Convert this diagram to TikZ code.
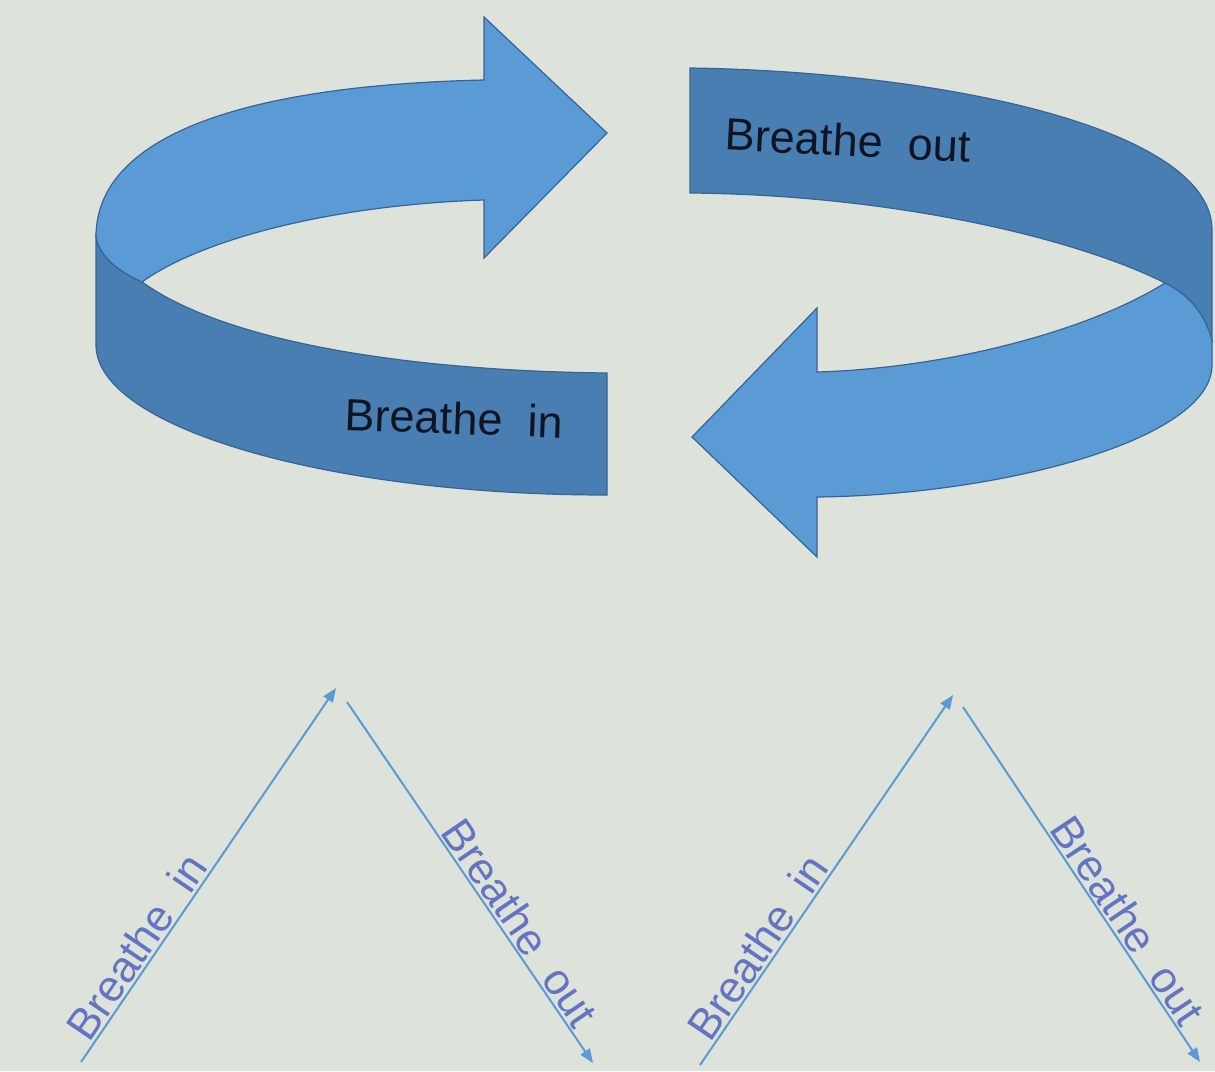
\documentclass[tikz,border=0pt]{standalone}
\usepackage{fontspec}
\setmainfont{Liberation Sans}
\usetikzlibrary{arrows.meta}
\definecolor{bgc}{RGB}{221,226,218}
\definecolor{lightblue}{RGB}{91,155,213}
\definecolor{darkblue}{RGB}{72,126,178}
\definecolor{edgeblue}{RGB}{55,100,150}
\definecolor{labelblue}{RGB}{100,115,195}
\definecolor{txt}{RGB}{15,20,35}
\begin{document}
\begin{tikzpicture}[x=0.5pt,y=-0.5pt,
  lightpart/.style={fill=lightblue, draw=edgeblue, line width=0.6pt},
  darkpart/.style={fill=darkblue, draw=edgeblue, line width=0.6pt},
  bandtext/.style={font=\fontsize{22.5}{27}\selectfont, text=txt, inner sep=0pt},
  flow/.style={draw=lightblue, line width=1pt, -{Triangle[length=7pt,width=5.5pt]}},
  flowlabel/.style={font=\fontsize{22}{26}\selectfont, text=labelblue, sloped, above, inner sep=1pt}]
\fill[bgc] (0,0) rectangle (1215,1071);
\useasboundingbox (0,0) rectangle (1215,1071);

% ---- left ribbon (Breathe in) ----
\path[darkpart] (96,237) -- (96,345) .. controls (96,428) and (330,495) .. (607,495)
  -- (607,373) .. controls (420,371) and (230,345) .. (142,282)
  .. controls (120,272) and (100,258) .. (96,237) -- cycle;
\path[lightpart] (96,237) .. controls (96,130) and (260,85) .. (484,80)
  -- (484,17) -- (607,133) -- (484,258) -- (484,200)
  .. controls (330,205) and (200,240) .. (142,282)
  .. controls (120,272) and (100,258) .. (96,237) -- cycle;
\node[bandtext, rotate=-2] (tin) at (454,418) {Breathe\ \ in};

% ---- right ribbon (Breathe out) ----
\path[darkpart] (690,68) .. controls (950,72) and (1212,130) .. (1212,230)
  -- (1212,340) .. controls (1205,315) and (1190,295) .. (1165,283)
  .. controls (1080,240) and (900,195) .. (690,193) -- cycle;
\path[lightpart] (1212,340) -- (1212,365) .. controls (1212,440) and (1000,495) .. (817,497)
  -- (817,557) -- (692,437) -- (817,308) -- (817,372)
  .. controls (950,368) and (1090,330) .. (1165,283)
  .. controls (1190,295) and (1205,315) .. (1212,340) -- cycle;
\node[bandtext, rotate=-3] (tout) at (848,140) {Breathe\ \ out};

% ---- bottom left V ----
\coordinate (a1) at (81,1062);
\coordinate (a2) at (336,688);
\coordinate (a3) at (347,702);
\coordinate (a4) at (593,1063);
\draw[flow] (a1) -- node[flowlabel, pos=0.28] (la1) {Breathe\ \ in} (a2);
\draw[flow] (a3) -- node[flowlabel, pos=0.64] (la2) {Breathe\ \ out} (a4);

% ---- bottom right V ----
\coordinate (b1) at (700,1065);
\coordinate (b2) at (953,695);
\coordinate (b3) at (963,707);
\coordinate (b4) at (1200,1062);
\draw[flow] (b1) -- node[flowlabel, pos=0.29] (lb1) {Breathe\ \ in} (b2);
\draw[flow] (b3) -- node[flowlabel, pos=0.63] (lb2) {Breathe\ \ out} (b4);
\end{tikzpicture}
\end{document}
